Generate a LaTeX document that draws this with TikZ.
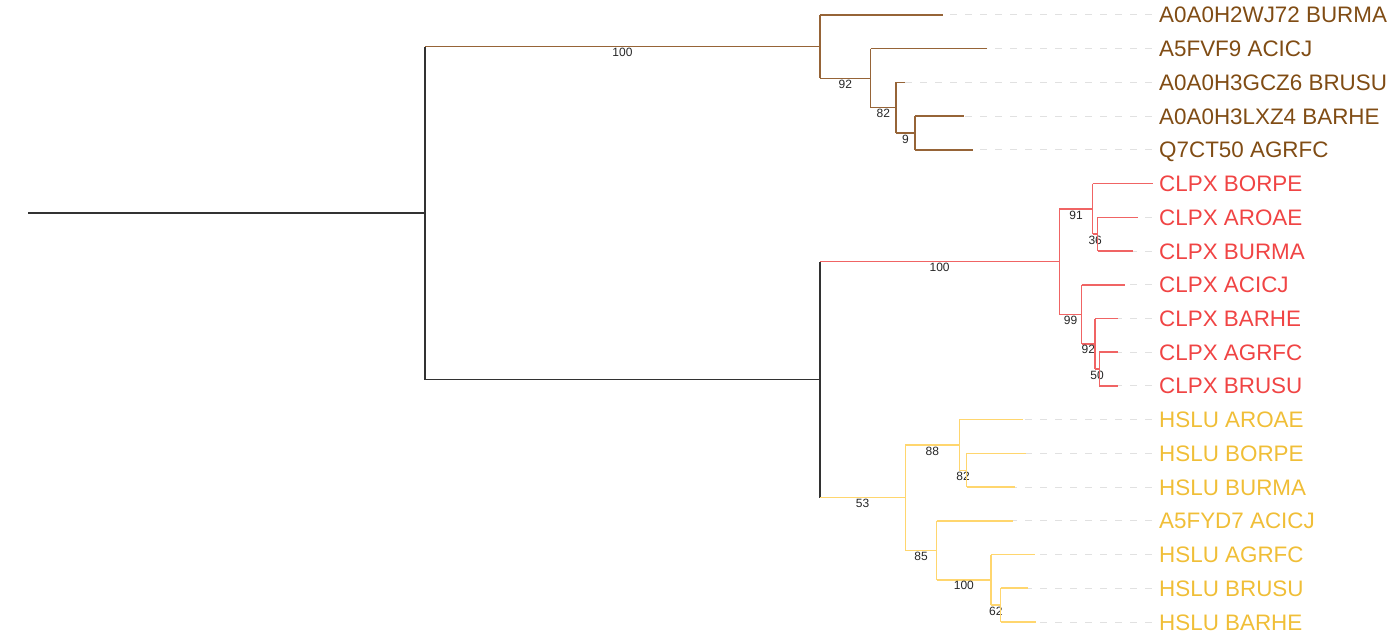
\documentclass[tikz,border=0pt]{standalone}
\usepackage{fontspec}
\setmainfont{Liberation Sans}
\definecolor{brtext}{RGB}{128,76,20}
\definecolor{brline}{RGB}{150,100,55}
\definecolor{rdtext}{RGB}{240,68,68}
\definecolor{rdline}{RGB}{240,100,100}
\definecolor{yltext}{RGB}{240,190,55}
\definecolor{ylline}{RGB}{255,214,110}
\definecolor{dashgray}{RGB}{225,225,225}
\definecolor{bkline}{RGB}{50,50,50}
\begin{document}
\begin{tikzpicture}[x=1pt,y=-1pt,
  br/.style={draw=brline,line width=1.5pt,line cap=square},
  rd/.style={draw=rdline,line width=1.5pt,line cap=square},
  yl/.style={draw=ylline,line width=1.5pt,line cap=square},
  bk/.style={draw=bkline,line width=1.2pt,line cap=square},
  leaf/.style={anchor=base west,inner sep=0pt,font=\fontsize{22.4}{22.4}\selectfont},
  boot/.style={midway,below,inner sep=1pt,font=\fontsize{12}{12}\selectfont,text=black!85},
  dashline/.style={draw=dashgray,line width=1pt,dash pattern=on 7pt off 8pt}]
\useasboundingbox (0,0) rectangle (1395,642);

% tips
\coordinate (t1) at (943,15.0);
\coordinate (t2) at (987,48.7);
\coordinate (t3) at (905,82.4);
\coordinate (t4) at (964,116.2);
\coordinate (t5) at (973,149.9);
\coordinate (t6) at (1153,183.6);
\coordinate (t7) at (1138,217.3);
\coordinate (t8) at (1133,251.0);
\coordinate (t9) at (1125,284.8);
\coordinate (t10) at (1118,318.5);
\coordinate (t11) at (1118,352.2);
\coordinate (t12) at (1118,385.9);
\coordinate (t13) at (1023,419.6);
\coordinate (t14) at (1026,453.4);
\coordinate (t15) at (1015,487.1);
\coordinate (t16) at (1013,520.8);
\coordinate (t17) at (1035,554.5);
\coordinate (t18) at (1028,588.2);
\coordinate (t19) at (1036,622.0);

% internal nodes
\coordinate (root0) at (28,213.0);
\coordinate (R) at (425,213.0);
\coordinate (B) at (820,46.7);
\coordinate (b92) at (870.7,78.4);
\coordinate (b82) at (896,107.7);
\coordinate (b9) at (915,133.0);
\coordinate (Lo) at (820,379.6);
\coordinate (Rd) at (1059.3,261.6);
\coordinate (r91) at (1092.7,208.9);
\coordinate (r36) at (1097.7,234.2);
\coordinate (r99) at (1081.7,314.4);
\coordinate (r92) at (1095,343.8);
\coordinate (r50) at (1099.3,369.05);
\coordinate (Y) at (905.3,497.6);
\coordinate (y88) at (959.3,444.9);
\coordinate (y82) at (966.7,470.25);
\coordinate (y85) at (936.7,550.3);
\coordinate (y100) at (991,579.8);
\coordinate (y62) at (1000.7,605.1);

% leaf labels
\node[leaf,text=brtext] (l1) at (1159,23.0) {A0A0H2WJ72 BURMA};
\node[leaf,text=brtext] (l2) at (1159,56.7) {A5FVF9 ACICJ};
\node[leaf,text=brtext] (l3) at (1159,90.4) {A0A0H3GCZ6 BRUSU};
\node[leaf,text=brtext] (l4) at (1159,124.2) {A0A0H3LXZ4 BARHE};
\node[leaf,text=brtext] (l5) at (1159,157.9) {Q7CT50 AGRFC};
\node[leaf,text=rdtext] (l6) at (1159,191.6) {CLPX BORPE};
\node[leaf,text=rdtext] (l7) at (1159,225.3) {CLPX AROAE};
\node[leaf,text=rdtext] (l8) at (1159,259.0) {CLPX BURMA};
\node[leaf,text=rdtext] (l9) at (1159,292.8) {CLPX ACICJ};
\node[leaf,text=rdtext] (l10) at (1159,326.5) {CLPX BARHE};
\node[leaf,text=rdtext] (l11) at (1159,360.2) {CLPX AGRFC};
\node[leaf,text=rdtext] (l12) at (1159,393.9) {CLPX BRUSU};
\node[leaf,text=yltext] (l13) at (1159,427.6) {HSLU AROAE};
\node[leaf,text=yltext] (l14) at (1159,461.4) {HSLU BORPE};
\node[leaf,text=yltext] (l15) at (1159,495.1) {HSLU BURMA};
\node[leaf,text=yltext] (l16) at (1159,528.8) {A5FYD7 ACICJ};
\node[leaf,text=yltext] (l17) at (1159,562.5) {HSLU AGRFC};
\node[leaf,text=yltext] (l18) at (1159,596.2) {HSLU BRUSU};
\node[leaf,text=yltext] (l19) at (1159,630.0) {HSLU BARHE};

% dashed guides
\foreach \i in {1,...,19}{
  \draw[dashline] ([xshift=-7pt]t\i -| l\i.west) -- (t\i);
}

% black backbone
\draw[bk] (root0) -- (R);
\draw[bk] (R |- B) -- (R |- Lo);
\draw[bk] (R |- Lo) -- (Lo);
\draw[bk] (Lo |- Rd) -- (Lo |- Y);

% brown clade
\draw[br] (R |- B) -- (B) node[boot]{100};
\draw[br] (B |- t1) -- (B |- b92);
\draw[br] (B |- t1) -- (t1);
\draw[br] (B |- b92) -- (b92) node[boot]{92};
\draw[br] (b92 |- t2) -- (b92 |- b82);
\draw[br] (b92 |- t2) -- (t2);
\draw[br] (b92 |- b82) -- (b82) node[boot]{82};
\draw[br] (b82 |- t3) -- (b82 |- b9);
\draw[br] (b82 |- t3) -- (t3);
\draw[br] (b82 |- b9) -- (b9) node[boot]{9};
\draw[br] (b9 |- t4) -- (b9 |- t5);
\draw[br] (b9 |- t4) -- (t4);
\draw[br] (b9 |- t5) -- (t5);

% red clade
\draw[rd] (Lo |- Rd) -- (Rd) node[boot]{100};
\draw[rd] (Rd |- r91) -- (Rd |- r99);
\draw[rd] (Rd |- r91) -- (r91) node[boot]{91};
\draw[rd] (Rd |- r99) -- (r99) node[boot]{99};
\draw[rd] (r91 |- t6) -- (r91 |- r36);
\draw[rd] (r91 |- t6) -- (t6);
\draw[rd] (r91 |- r36) -- (r36) node[boot]{36};
\draw[rd] (r36 |- t7) -- (r36 |- t8);
\draw[rd] (r36 |- t7) -- (t7);
\draw[rd] (r36 |- t8) -- (t8);
\draw[rd] (r99 |- t9) -- (r99 |- r92);
\draw[rd] (r99 |- t9) -- (t9);
\draw[rd] (r99 |- r92) -- (r92) node[boot]{92};
\draw[rd] (r92 |- t10) -- (r92 |- r50);
\draw[rd] (r92 |- t10) -- (t10);
\draw[rd] (r92 |- r50) -- (r50) node[boot]{50};
\draw[rd] (r50 |- t11) -- (r50 |- t12);
\draw[rd] (r50 |- t11) -- (t11);
\draw[rd] (r50 |- t12) -- (t12);

% yellow clade
\draw[yl] (Lo |- Y) -- (Y) node[boot]{53};
\draw[yl] (Y |- y88) -- (Y |- y85);
\draw[yl] (Y |- y88) -- (y88) node[boot]{88};
\draw[yl] (Y |- y85) -- (y85) node[boot]{85};
\draw[yl] (y88 |- t13) -- (y88 |- y82);
\draw[yl] (y88 |- t13) -- (t13);
\draw[yl] (y88 |- y82) -- (y82) node[boot]{82};
\draw[yl] (y82 |- t14) -- (y82 |- t15);
\draw[yl] (y82 |- t14) -- (t14);
\draw[yl] (y82 |- t15) -- (t15);
\draw[yl] (y85 |- t16) -- (y85 |- y100);
\draw[yl] (y85 |- t16) -- (t16);
\draw[yl] (y85 |- y100) -- (y100) node[boot]{100};
\draw[yl] (y100 |- t17) -- (y100 |- y62);
\draw[yl] (y100 |- t17) -- (t17);
\draw[yl] (y100 |- y62) -- (y62) node[boot]{62};
\draw[yl] (y62 |- t18) -- (y62 |- t19);
\draw[yl] (y62 |- t18) -- (t18);
\draw[yl] (y62 |- t19) -- (t19);
\end{tikzpicture}
\end{document}
